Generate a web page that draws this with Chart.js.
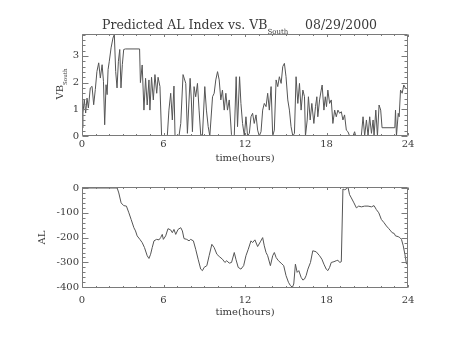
<!DOCTYPE html>
<html><head><meta charset="utf-8">
<script src="https://cdn.jsdelivr.net/npm/chart.js@4.4.1/dist/chart.umd.min.js"></script>
<style>
html,body{margin:0;padding:0;background:#fff;}
#wrap{position:relative;width:454px;height:341px;overflow:hidden;font-family:"DejaVu Serif",serif;color:#3a3a3a;}
canvas{position:absolute;left:0;}
#c1{top:0;width:454px;height:170px;}
#c2{top:170px;width:454px;height:171px;}
.t{position:absolute;white-space:nowrap;}
.t sub{line-height:0;}
#title,#date{top:17px;font-size:12.5px;line-height:15px;}
#title{left:102px;}
#title sub{font-size:7px;vertical-align:-5px;}
#date{left:305px;}
#vblab{left:40px;top:76px;width:40px;height:16px;line-height:16px;font-size:10px;text-align:center;transform:rotate(-90deg);}
#vblab sub{font-size:5.5px;vertical-align:-4px;}
</style></head><body>
<div id="wrap">
<canvas id="c1" width="454" height="170"></canvas>
<canvas id="c2" width="454" height="171"></canvas>
<div class="t" id="title">Predicted AL Index vs. VB<sub>South</sub></div>
<div class="t" id="date">08/29/2000</div>
<div class="t" id="vblab">VB<sub>South</sub></div>
</div>
<script>
// ---- data ----
const HOURS_VB = [0,0.07,0.17,0.27,0.37,0.47,0.61,0.74,0.86,0.98,1.1,1.23,1.35,1.48,1.58,1.67,1.77,1.85,1.92,2.01,2.14,2.28,2.38,2.48,2.58,2.68,2.78,2.87,2.97,3.07,3.2,4.24,4.3,4.43,4.56,4.68,4.8,4.93,5.0,5.12,5.25,5.37,5.5,5.6,5.74,5.86,6.28,6.4,6.53,6.65,6.77,6.85,7.14,7.27,7.44,7.64,7.76,7.96,8.05,8.13,8.25,8.37,8.5,8.62,8.74,8.87,9.04,9.16,9.29,9.41,9.61,9.73,9.85,9.98,10.1,10.22,10.34,10.47,10.59,10.71,10.84,11.01,11.21,11.35,11.45,11.6,11.7,11.82,11.95,12.07,12.19,12.32,12.44,12.56,12.68,12.81,12.93,13.05,13.18,13.3,13.42,13.55,13.67,13.79,13.92,14.04,14.16,14.29,14.41,14.53,14.66,14.78,14.9,15.02,15.15,15.27,15.39,15.52,15.64,15.76,15.89,16.01,16.13,16.26,16.38,16.45,16.58,16.67,16.8,16.92,17.07,17.19,17.29,17.36,17.49,17.61,17.68,17.81,17.91,18.0,18.1,18.23,18.35,18.47,18.6,18.72,18.84,18.97,19.09,19.21,19.33,19.46,19.58,19.7,19.95,20.07,20.15,20.44,20.57,20.69,20.81,20.94,21.06,21.18,21.31,21.43,21.5,21.63,21.75,21.87,21.99,22.09,23.03,23.08,23.15,23.28,23.35,23.45,23.57,23.69,23.82];
const VB_SOUTH = [0.3,0.86,1.36,0.86,1.42,1.05,1.8,1.86,1.17,1.74,2.42,2.74,2.17,2.67,2.05,0.42,1.92,1.55,2.49,2.8,3.3,3.67,3.8,2.42,1.8,2.8,3.24,1.8,2.67,3.24,3.26,3.26,2.0,2.66,0.97,2.16,1.16,2.1,0.97,2.2,1.35,2.3,1.6,2.2,1.85,0,0,0.97,1.6,0.6,1.87,0,0,0.47,2.3,1.97,0.1,2.16,1.35,0.16,1.85,1.47,1.97,0.97,0.04,0.04,1.85,0.97,0.35,0,1.47,1.6,2.1,2.41,2.1,1.35,1.72,0.97,1.6,0.97,1.35,0,0,2.22,0.35,2.22,1.22,0.47,0,0.72,0,0.1,0.72,0.85,0.47,0.79,0.22,0,0.16,0.97,1.22,1.1,1.6,0.97,1.85,0,0.22,2.1,1.85,2.22,1.97,2.6,2.72,2.22,1.35,0.97,0.35,0,0.1,2.22,1.22,1.97,0.97,1.72,1.47,0,0.6,1.47,0.6,1.22,0.47,1.1,1.47,0.72,1.35,1.72,1.91,0.97,1.47,1.1,1.72,1.22,1.35,0.47,0.97,0.72,0.97,0.85,0.91,0.6,0.79,0.22,0.16,0,0,0.16,0,0,0.04,0.72,0,0.6,0,0.72,0.1,0.6,0,0.97,0,1.16,0.97,0.31,0.31,0.97,0,0.85,0.72,1.72,1.6,1.91,1.79];

const HOURS_AL = [0,2.59,2.71,2.88,3.07,3.27,3.45,3.62,3.82,3.94,4.06,4.26,4.43,4.6,4.8,4.93,5.05,5.17,5.3,5.49,5.67,5.79,5.91,5.99,6.16,6.33,6.53,6.65,6.77,6.9,7.07,7.27,7.39,7.51,7.71,7.88,8.0,8.2,8.37,8.55,8.74,8.87,8.99,9.19,9.36,9.56,9.73,9.93,10.1,10.34,10.52,10.66,10.84,11.01,11.21,11.33,11.5,11.7,11.9,12.07,12.24,12.44,12.56,12.73,12.93,13.13,13.3,13.42,13.55,13.67,13.87,14.04,14.16,14.29,14.46,14.66,14.85,15.02,15.2,15.34,15.49,15.59,15.71,15.84,15.96,16.13,16.26,16.38,16.5,16.63,16.82,16.99,17.24,17.49,17.66,17.81,17.98,18.1,18.23,18.35,18.55,18.72,18.84,18.97,19.09,19.21,19.33,19.46,19.58,19.7,19.83,20.02,20.2,20.37,20.57,20.81,21.06,21.31,21.5,21.67,21.85,22.04,22.24,22.41,22.59,22.73,22.83,22.98,23.08,23.28,23.4,23.52,23.65,23.77,23.89];
const AL_INDEX = [0,0,-20,-60,-71,-73,-100,-127,-160,-173,-193,-207,-220,-240,-273,-284,-267,-240,-213,-207,-209,-200,-187,-207,-193,-164,-169,-180,-167,-187,-167,-160,-173,-204,-207,-213,-207,-213,-247,-287,-327,-333,-320,-313,-273,-227,-240,-267,-276,-287,-300,-293,-303,-300,-260,-287,-320,-327,-313,-273,-247,-213,-220,-209,-236,-217,-200,-233,-260,-273,-313,-273,-260,-280,-293,-303,-313,-353,-380,-393,-400,-387,-307,-340,-333,-360,-371,-367,-353,-327,-300,-253,-257,-273,-287,-307,-327,-333,-320,-300,-297,-293,-291,-300,-297,-4,-7,-4,4,-27,-40,-60,-80,-73,-76,-73,-73,-76,-71,-87,-100,-127,-140,-153,-164,-173,-180,-183,-193,-196,-200,-207,-233,-267,-307];

const X_TICKS = [0,6,12,18,24];
const X_TICK_LABELS = ['0','6','12','18','24'];
const VB_TICKS = [0,1,2,3];
const VB_TICK_LABELS = ['0','1','2','3'];
const AL_TICKS = [0,-100,-200,-300,-400];
const AL_TICK_LABELS = ['0','-100','-200','-300','-400'];

const FONT = '"DejaVu Serif", serif';
const TXT = '#3a3a3a';
const LINE = '#555555';
const AXIS = '#7a7a7a';

const frame = {
  id: 'frame',
  afterDatasetsDraw(chart) {
    const o = chart.options.plugins.frame;
    const {ctx, chartArea: a, scales: {x, y}} = chart;
    const L = Math.round(a.left) + 0.5, R = Math.round(a.right) - 0.5;
    const T = Math.round(a.top) + 0.5, B = Math.round(a.bottom) - 0.5;
    ctx.save();
    ctx.strokeStyle = AXIS; ctx.lineWidth = 1;
    ctx.beginPath();
    ctx.rect(L, T, R - L, B - T);
    // x ticks every hour, major every 6
    for (let h = 0; h <= 24; h += 1) {
      const px = Math.round(x.getPixelForValue(h)) + 0.5;
      const len = (h % 6 === 0) ? o.xMajor : o.xMinor;
      ctx.moveTo(px, B); ctx.lineTo(px, B - len);
      ctx.moveTo(px, T); ctx.lineTo(px, T + len);
    }
    const n = Math.round((o.ymax - o.ymin) / o.yMinorStep);
    for (let i = 0; i <= n; i++) {
      const v = o.ymin + i * o.yMinorStep;
      if (v > y.max + 1e-9 || v < y.min - 1e-9) continue;
      const py = Math.round(y.getPixelForValue(v)) + 0.5;
      const major = Math.abs(v / o.yMajorStep - Math.round(v / o.yMajorStep)) < 1e-6;
      const len = major ? o.yMajor : o.yMinor;
      ctx.moveTo(L, py); ctx.lineTo(L + len, py);
      ctx.moveTo(R, py); ctx.lineTo(R - len, py);
    }
    ctx.stroke();
    ctx.restore();
  }
};

function makeChart(id, xs, ys, c) {
  return new Chart(document.getElementById(id), {
    type: 'line',
    data: { datasets: [{
      data: xs.map((t, i) => ({ x: t, y: ys[i] })),
      borderColor: LINE, borderWidth: 1, pointRadius: 0, tension: 0, fill: false
    }]},
    options: {
      responsive: false, animation: false, events: [],
      layout: { padding: { left: 0, top: c.top, right: 46, bottom: 0 } },
      plugins: {
        legend: { display: false }, tooltip: { enabled: false }, title: { display: false },
        frame: { xMajor: 2.5, xMinor: 1.5, yMajor: 6, yMinor: 3,
                 ymin: c.tickMin, ymax: c.tickMax, yMinorStep: c.minorStep, yMajorStep: c.majorStep }
      },
      scales: {
        x: {
          type: 'linear', min: 0, max: 24,
          afterBuildTicks: s => { s.ticks = X_TICKS.map(v => ({ value: v })); },
          afterFit: s => { s.height = c.xh; s.paddingLeft = 0; s.paddingRight = 0; },
          grid: { display: false, drawTicks: false }, border: { display: false },
          ticks: { padding: c.xpad, color: TXT, font: { family: FONT, size: 10 }, maxRotation: 0, autoSkip: false,
                   callback: (v, i) => X_TICK_LABELS[i] },
          title: { display: true, text: 'time(hours)', color: TXT, font: { family: FONT, size: 10 },
                   padding: { top: 0, bottom: c.xtpad } }
        },
        y: {
          type: 'linear', min: c.ymin, max: c.ymax,
          afterBuildTicks: s => { s.ticks = c.yticks.map(v => ({ value: v })); },
          afterFit: s => { s.width = 82; s.paddingTop = 0; s.paddingBottom = 0; },
          grid: { display: false, drawTicks: false }, border: { display: false },
          ticks: { padding: 3, color: TXT, font: { family: FONT, size: 10 }, autoSkip: false,
                   callback: (v, i) => c.ylabels[i] },
          title: c.ytitle ? { display: true, text: c.ytitle, color: TXT, font: { family: FONT, size: 10 },
                   padding: { top: c.ytpad, bottom: 0 } } : { display: false }
        }
      }
    },
    plugins: [frame]
  });
}

makeChart('c1', HOURS_VB, VB_SOUTH, {
  top: 34, xh: 34, xpad: 2, xtpad: 6,
  ymin: 0, ymax: 3.82, yticks: VB_TICKS, ylabels: VB_TICK_LABELS,
  tickMin: 0, tickMax: 3.8, minorStep: 0.2, majorStep: 1
});
makeChart('c2', HOURS_AL, AL_INDEX, {
  top: 17, xh: 53, xpad: 6, xtpad: 23,
  ymin: -403, ymax: 4, yticks: AL_TICKS, ylabels: AL_TICK_LABELS,
  tickMin: -400, tickMax: 0, minorStep: 20, majorStep: 100,
  ytitle: 'AL', ytpad: 36
});
</script>
</body></html>
